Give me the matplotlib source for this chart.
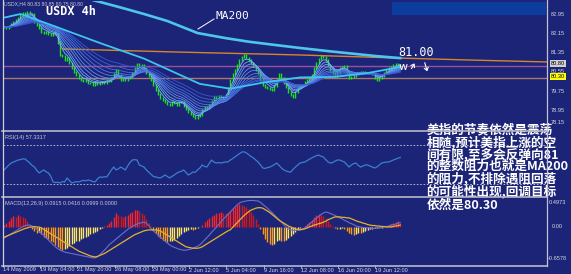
import matplotlib
matplotlib.use('Agg')
import matplotlib.pyplot as plt
import numpy as np
import pandas as pd
from matplotlib.lines import Line2D
from matplotlib.patches import Rectangle, FancyArrowPatch
from matplotlib.colors import LinearSegmentedColormap

W, H = 571, 274
BG = '#1c2478'

# ---------------- data ----------------
closes = [82.41, 82.36, 82.45, 82.55, 82.62,
          82.70, 82.78, 82.92, 82.99,
          82.93, 83.02, 82.97, 82.95,
          82.62,
          82.48, 82.35, 82.20,
          82.16, 82.22, 82.12,
          82.08, 82.15, 82.12,
          81.75, 81.25,
          81.20, 81.05, 81.12,
          80.90, 80.72, 80.54,
          80.40, 80.30, 80.21,
          80.15, 80.22, 80.10, 80.09,
          80.02, 80.12, 80.05, 80.09,
          80.14, 80.08, 80.20, 80.17,
          80.30, 80.45, 80.63,
          80.40, 80.21,
          80.28, 80.22, 80.30, 80.34,
          80.52, 80.70, 80.88,
          80.78, 80.83,
          80.70, 80.52, 80.38,
          80.20, 80.00, 79.80,
          79.62, 79.46,
          79.40, 79.30, 79.22, 79.17,
          79.28, 79.25,
          79.18, 79.32, 79.30,
          79.15, 79.00, 78.88,
          78.80, 78.70, 78.63,
          78.70, 78.76,
          78.95, 79.09,
          79.05, 79.17,
          79.35, 79.51,
          79.45, 79.56, 79.51,
          79.48, 79.59,
          79.90, 80.21,
          80.45, 80.63,
          80.85, 81.04,
          81.18, 81.25,
          81.12, 81.04,
          80.92, 80.79,
          80.62, 80.50,
          80.22, 80.00,
          79.92, 79.88,
          79.84, 79.80,
          79.98, 80.21,
          80.46,
          80.30, 80.09,
          79.90, 79.71,
          79.60, 79.51,
          79.70, 79.88,
          79.95, 80.00,
          80.12, 80.21,
          80.30, 80.42,
          80.70, 80.92,
          81.10, 81.21,
          81.15, 81.04,
          80.85, 80.63,
          80.50, 80.38,
          80.55, 80.71,
          80.75, 80.79,
          80.52, 80.29,
          80.33, 80.38,
          80.45, 80.50,
          80.56, 80.54,
          80.48, 80.50,
          80.52, 80.46,
          80.30, 80.21,
          80.30, 80.38,
          80.50, 80.63,
          80.70, 80.75,
          80.82, 80.88,
          80.85, 80.80]

rsi_values = [44.4, 47.0, 49.5, 51.5,
              52.5, 53.5, 54.6, 55.0,
              55.8, 55.6, 53.5, 51.5,
              49.0, 47.4, 44.0, 41.3,
              43.0, 44.4, 42.5, 41.3,
              38.0, 32.1, 31.5, 31.8,
              31.0, 32.5, 32.1, 36.2,
              33.5, 31.0, 31.8, 32.5,
              32.1, 33.0, 33.8, 33.2,
              34.1, 33.5, 32.5, 32.1,
              35.0, 37.2, 36.8, 37.5,
              37.2, 40.5, 44.4, 47.4,
              44.4, 45.5, 47.4, 46.0,
              44.4, 48.5, 52.0, 54.6,
              55.0, 54.6, 49.5, 48.5,
              47.4, 44.5, 42.3, 40.0,
              37.8, 37.2, 36.6, 36.2,
              37.5, 39.2, 37.8, 36.2,
              37.8, 39.2, 41.0, 42.3,
              43.0, 44.4, 42.0, 39.2,
              40.5, 42.3, 42.0, 44.5,
              46.4, 49.5, 48.0, 47.4,
              51.0, 54.6, 52.5, 51.5,
              52.0, 51.5, 52.0, 52.6,
              52.6, 54.5, 56.0, 57.7,
              59.5, 61.0, 62.8, 63.0,
              61.8, 60.0, 58.0, 56.7,
              54.5, 52.6, 49.5, 46.4,
              46.0, 46.8, 47.4, 48.5,
              50.0, 51.5, 49.0, 46.5,
              44.4, 43.5, 42.5, 42.3,
              45.0, 47.4, 49.5, 51.5,
              52.0, 52.6, 54.0, 55.5,
              56.7, 58.0, 59.0, 59.7,
              58.5, 57.7, 55.0, 52.6,
              51.5, 52.0, 53.5, 54.6,
              54.6, 53.5, 52.6, 50.0,
              47.4, 49.5, 51.0, 51.5,
              49.0, 47.4, 48.5, 49.5,
              49.5, 48.5, 47.5, 46.4,
              47.5, 49.5, 51.5, 52.0,
              52.5, 52.6, 53.5, 54.6,
              55.5, 56.5, 57.3]

macd_hist = [0.05, 0.08, 0.12,
             0.18, 0.22, 0.20, 0.25, 0.23, 0.20, 0.18, 0.12,
             0.02, -0.04,
             -0.08, -0.12, -0.10,
             -0.15, -0.20, -0.22, -0.25, -0.28, -0.32, -0.38, -0.42, -0.45, -0.48,
             -0.46, -0.44, -0.40, -0.36, -0.33,
             -0.30, -0.28, -0.25, -0.22, -0.20, -0.18, -0.15, -0.12, -0.10, -0.08,
             -0.05, -0.02, 0.02, 0.05, 0.08,
             0.12, 0.20, 0.28, 0.25, 0.22, 0.20, 0.22, 0.25, 0.28, 0.32, 0.35, 0.36,
             0.34, 0.30, 0.24, 0.16, 0.08, 0.02,
             -0.06, -0.12, -0.18, -0.22, -0.26, -0.30, -0.32, -0.30, -0.28, -0.26,
             -0.22, -0.18, -0.14, -0.10,
             -0.08, -0.06, -0.05, -0.06, -0.05, -0.03, 0.00,
             0.05, 0.10, 0.15, 0.18, 0.22, 0.25, 0.28, 0.30, 0.32, 0.30, 0.28, 0.30,
             0.34, 0.38, 0.42, 0.45, 0.47, 0.46, 0.44, 0.42, 0.38, 0.32, 0.25, 0.16, 0.06,
             -0.05, -0.15, -0.25, -0.32, -0.36, -0.37, -0.35, -0.30, -0.26, -0.28,
             -0.30, -0.26, -0.22, -0.18, -0.14, -0.10, -0.06,
             -0.03, 0.00, 0.03, 0.06, 0.10, 0.15,
             0.20, 0.24, 0.26, 0.25, 0.22, 0.18, 0.12, 0.06, 0.02,
             -0.03, -0.05, -0.04, -0.03, -0.05,
             -0.08, -0.12, -0.15, -0.16, -0.14, -0.12, -0.13, -0.10, -0.08, -0.06,
             -0.05, -0.04,
             -0.03, -0.02, -0.03, -0.02, 0.00, 0.02, 0.04, 0.06,
             0.08, 0.10, 0.12, 0.09]

macd_signal = [-0.21, -0.19, -0.17, -0.15, -0.13, -0.11, -0.09, -0.07, -0.05, -0.03, -0.02, 0.00,
               0.00, 0.01, 0.00, 0.00,
               -0.02, -0.05, -0.08, -0.11, -0.14, -0.17, -0.20, -0.23, -0.26, -0.29, -0.32, -0.35,
               -0.38, -0.41, -0.44, -0.47, -0.50, -0.52, -0.54, -0.56, -0.58, -0.60, -0.61, -0.62,
               -0.61, -0.59, -0.57, -0.55, -0.52, -0.49, -0.46, -0.43, -0.40, -0.37, -0.34, -0.31,
               -0.28, -0.25, -0.22, -0.19, -0.16, -0.14, -0.12, -0.10, -0.08, -0.07, -0.06, -0.06,
               -0.06, -0.06, -0.07, -0.08,
               -0.11, -0.14, -0.17, -0.20, -0.23, -0.26, -0.29, -0.32, -0.35, -0.38, -0.41,
               -0.42, -0.43, -0.44, -0.44, -0.44, -0.43,
               -0.41, -0.38, -0.35, -0.32, -0.29, -0.26, -0.23, -0.20, -0.17, -0.14, -0.11, -0.08, -0.06,
               -0.01, 0.04, 0.09, 0.14, 0.19, 0.24, 0.28, 0.32, 0.35, 0.37, 0.39,
               0.40, 0.40, 0.39,
               0.36, 0.33, 0.30, 0.26, 0.22, 0.18, 0.14,
               0.11, 0.08, 0.05, 0.02, 0.00, -0.02, -0.04, -0.05, -0.06,
               -0.05, -0.04, -0.02, 0.00, 0.02, 0.04, 0.05, 0.07, 0.08,
               0.10, 0.12, 0.15, 0.17, 0.19, 0.21,
               0.21, 0.21, 0.20, 0.20, 0.19, 0.19,
               0.17, 0.15, 0.13, 0.11, 0.10, 0.08, 0.07, 0.05, 0.04,
               0.03, 0.03, 0.02, 0.02, 0.01, 0.01, 0.00, 0.00, 0.00,
               0.01, 0.02, 0.03, 0.04]

macd_main = [-0.23, -0.20, -0.17, -0.14, -0.11, -0.08, -0.05, -0.02, 0.01, 0.03, 0.04, 0.04,
             0.02, -0.01, -0.05, -0.09, -0.13, -0.17,
             -0.22, -0.27, -0.32, -0.37, -0.41, -0.45, -0.48,
             -0.50, -0.52, -0.53, -0.54, -0.55, -0.56, -0.57, -0.58,
             -0.59, -0.60, -0.61, -0.62, -0.63, -0.64, -0.64,
             -0.62, -0.58, -0.53, -0.48, -0.43, -0.37,
             -0.33, -0.29, -0.25, -0.21, -0.17, -0.13, -0.09, -0.05, -0.02,
             0.01, 0.04, 0.06, 0.08, 0.09, 0.10,
             0.08, 0.03, -0.03, -0.08,
             -0.12, -0.16, -0.21, -0.25, -0.29, -0.33, -0.37,
             -0.40, -0.42, -0.44, -0.46, -0.47, -0.48,
             -0.48, -0.47, -0.46, -0.44, -0.42, -0.40, -0.37,
             -0.32, -0.27, -0.22, -0.17, -0.11, -0.06,
             -0.01, 0.05, 0.10, 0.16, 0.21, 0.26, 0.31, 0.36, 0.41, 0.46, 0.50,
             0.52, 0.53, 0.54, 0.55, 0.55, 0.55, 0.54, 0.54,
             0.51, 0.47, 0.43, 0.39, 0.34, 0.30, 0.25,
             0.20, 0.15, 0.10, 0.05, 0.00, -0.04,
             -0.06, -0.07, -0.07, -0.06, -0.05, -0.04, -0.02,
             0.02, 0.06, 0.10, 0.14, 0.18, 0.22, 0.26, 0.29, 0.31,
             0.30, 0.28, 0.26, 0.24, 0.21, 0.19,
             0.17, 0.14, 0.12, 0.09, 0.07, 0.05, 0.02, 0.01,
             0.00, -0.01, -0.01, -0.02, -0.02, -0.03, -0.03, -0.02, -0.02,
             -0.01, 0.00, 0.01, 0.02, 0.04, 0.05, 0.06, 0.08, 0.09]

ma200_bars = [28, 38, 50, 60, 70, 83, 95, 105, 115, 127, 140, 150, 160, 170]
ma200_vals = [83.80, 83.53, 83.22, 82.95, 82.66, 82.16, 81.95, 81.80, 81.68, 81.54,
              81.40, 81.30, 81.20, 81.12]

slow_bars = [0, 7, 20, 41, 60, 84, 97, 111, 127, 142, 156, 170]
slow_vals = [82.80, 82.95, 82.50, 81.75, 81.10, 80.05, 79.85, 80.10, 80.32, 80.34, 80.50, 80.75]

orange_bars = [25, 75, 127, 170, 200, 233]
orange_vals = [81.50, 81.37, 81.25, 81.12, 81.04, 80.96]

bid_price = 80.80
target_price = 80.30
price_ticks = [82.95, 82.15, 81.35, 80.55, 79.75, 78.95, 78.15]
macd_ticks = [0.4973, 0.0, -0.6578]
macd_tick_labels = ['0.4973', '0.00', '-0.6578']
rsi_levels = [70, 30]
date_bars = [0, 16, 32, 48, 64, 80, 96, 112, 128, 144, 160]
date_labels = ['14 May 2009', '19 May 04:00', '21 May 20:00', '26 May 08:00',
               '29 May 00:00', '2 Jun 12:00', '5 Jun 04:00', '9 Jun 16:00',
               '12 Jun 08:00', '16 Jun 20:00', '19 Jun 12:00']
ribbon_periods = [4, 6, 8, 11, 14, 18, 22, 27, 33, 40]

comment_lines = ['美指的节奏依然是震荡',
                 '相随,预计美指上涨的空',
                 '间有限,至多会反弹向81',
                 '的整数阻力也就是MA200',
                 '的阻力,不排除遇阻回落',
                 '的可能性出现,回调目标',
                 '依然是80.30']

# ---------------- figure ----------------
fig = plt.figure(figsize=(W / 100, H / 100), dpi=100, facecolor=BG)


def fx(x):
    return x / W


def fy(y):
    return 1 - y / H


X0, X1 = 3, 547
PX_PER_BAR = 2.33
xlim = (-0.5, -0.5 + (X1 - X0) / PX_PER_BAR)

ax_p = fig.add_axes([fx(X0), fy(130.5), (X1 - X0) / W, 129.5 / H])
ax_r = fig.add_axes([fx(X0), fy(197), (X1 - X0) / W, 66 / H])
ax_m = fig.add_axes([fx(X0), fy(265), (X1 - X0) / W, 67 / H])

for ax in (ax_p, ax_r, ax_m):
    ax.set_facecolor('none')
    ax.set_xlim(*xlim)
    ax.set_xticks([])
    ax.set_yticks([])
    for s in ax.spines.values():
        s.set_visible(False)

pscale = 24.1
ax_p.set_ylim(82.95 - (130.5 - 14) / pscale, 82.95 + (14 - 1) / pscale)

fig.patches.append(Rectangle((fx(392), fy(15)), (546 - 392) / W, 13 / H,
                             transform=fig.transFigure, facecolor='#0b3c9e',
                             edgecolor='none', zorder=0))

n = len(closes)
xb = np.arange(n)
c = np.array(closes)
o = np.concatenate([[c[0]], c[:-1]])
hi = np.maximum(o, c) + 0.04
lo = np.minimum(o, c) - 0.04
ax_p.vlines(xb, lo, hi, color='#19e619', lw=1.0, zorder=2)

ax_p.axhline(bid_price, color='#9a4f9a', lw=1.0, zorder=1)
ax_p.axhline(target_price, color='#a87a6a', lw=1.0, zorder=1)
ax_p.plot(orange_bars, orange_vals, color='#d8842a', lw=1.0, zorder=2)

cs = pd.Series(closes)
cmap = LinearSegmentedColormap.from_list('rib', ['#7cb8ff', '#3558d8'])
for i, p in enumerate(ribbon_periods):
    ema = cs.ewm(span=p, adjust=False).mean()
    ax_p.plot(xb, ema, color=cmap(i / (len(ribbon_periods) - 1)), lw=0.6, zorder=3)
ax_p.plot(slow_bars, slow_vals, color='#3ec4f0', lw=1.3, zorder=4)
ax_p.plot(ma200_bars, ma200_vals, color='#4ec6ec', lw=1.9, zorder=4)

# RSI
ax_r.set_ylim(30 - 13 / 0.975, 70 + 14 / 0.975)
for lv in rsi_levels:
    ax_r.axhline(lv, color='#c8c8d8', lw=0.6, ls=(0, (2, 2)))
ax_r.plot(np.arange(len(rsi_values)), rsi_values, color='#3a7fd0', lw=0.9)

# MACD
mstep = 0.4973 / 24
ax_m.set_ylim(-38 * mstep, 29 * mstep)
hist = np.array(macd_hist)
prev = np.concatenate([[hist[0]], hist[:-1]])
cols = []
for v, pv in zip(hist, prev):
    if v >= 0:
        cols.append('#ff2424' if v >= pv else '#d01818')
    else:
        cols.append('#ff9a10' if v < pv else '#ffe860')
ax_m.vlines(np.arange(len(hist)), 0, hist, colors=cols, lw=1.0)
ax_m.plot(np.arange(len(macd_main)), macd_main, color='#6e6ec8', lw=0.8)
ax_m.plot(np.arange(len(macd_signal)), macd_signal, color='#e8b030', lw=0.9)

# right axis labels
lab_col = '#d8d8e0'
small = dict(family='Liberation Sans', fontsize=4.1, color=lab_col)
for t in price_ticks:
    y = min(14 + (82.95 - t) * pscale, 122.5)
    fig.text(fx(557.5), fy(y), f'{t:.2f}', ha='center', va='center', **small)
for t, lab in zip(macd_ticks, macd_tick_labels):
    y = 227 - t / mstep
    fig.text(fx(557.5), fy(y), lab, ha='center', va='center', **small)

for val, bg, yy in ((bid_price, '#d0d0d0', 63.5), (target_price, '#ffff00', 76.5)):
    fig.text(fx(558), fy(yy), f'{val:.2f}', color='black', fontsize=4.1,
             family='Liberation Sans', ha='center', va='center',
             bbox=dict(boxstyle='square,pad=0.2', facecolor=bg, edgecolor='none'))

# date labels
for b, lab in zip(date_bars, date_labels):
    xpix = X0 + (b - xlim[0]) * PX_PER_BAR - 1.5
    if b == 0:
        xpix = 3
    fig.text(fx(xpix), fy(270), lab, ha='left', va='center', **small)
    if b != 0:
        fig.add_artist(Line2D([fx(xpix), fx(xpix)], [fy(265), fy(267.5)],
                              color=lab_col, lw=0.5))

# panel labels
fig.text(fx(4), fy(4), 'USDX,H4 80.83 80.85 80.75 80.80', color='#c8c8d0',
         fontsize=3.7, family='Liberation Sans', ha='left', va='center')
fig.text(fx(5), fy(137), 'RSI(14) 57.3317', color='#c8c8d0', fontsize=4.0,
         family='Liberation Sans', ha='left', va='center')
fig.text(fx(5), fy(204), 'MACD(12,26,9) 0.0915 0.0416 0.0999 0.0000', color='#c8c8d0',
         fontsize=4.0, family='Liberation Sans', ha='left', va='center')

# annotations
fig.text(fx(46), fy(11.5), 'USDX 4h', color='white', fontsize=8.5,
         family='DejaVu Sans Mono', weight='bold', ha='left', va='center')
fig.text(fx(215), fy(16), 'MA200', color='white', fontsize=8,
         family='DejaVu Sans Mono', ha='left', va='center')
fig.add_artist(Line2D([fx(214), fx(198)], [fy(19), fy(29)], color='white', lw=0.7))
fig.text(fx(398), fy(52), '81.00', color='white', fontsize=8.5,
         family='DejaVu Sans Mono', ha='left', va='center')
fig.text(fx(399), fy(67), 'w', color='white', fontsize=8, ha='left', va='center')
fig.patches.append(FancyArrowPatch(
    (fx(410), fy(71)), (fx(416), fy(61)), transform=fig.transFigure,
    arrowstyle='->,head_length=2,head_width=1.5', color='white', lw=0.8))
fig.patches.append(FancyArrowPatch(
    (fx(424), fy(60)), (fx(428), fy(74)), transform=fig.transFigure,
    arrowstyle='->,head_length=2,head_width=1.5', color='white', lw=0.8))

# Chinese comment: six-line block + last line (baseline = last line of a block)
cjk = dict(color='white', fontsize=9.1, family=['Noto Sans CJK SC', 'DejaVu Sans'],
           weight='bold', ha='left', va='baseline', zorder=5)
fig.text(fx(426.5), fy(195.0), '\n'.join(comment_lines[:6]), linespacing=0.88, **cjk)
fig.text(fx(426.5), fy(209.0), comment_lines[6], **cjk)

# frame / separators (drawn on top)
sep_col = '#b8b8c8'
for y in (131, 197, 265.5):
    fig.add_artist(Line2D([fx(2), fx(X1)], [fy(y), fy(y)], color=sep_col, lw=1.2, zorder=10))
fig.add_artist(Line2D([fx(2.5), fx(2.5)], [fy(0), fy(266)], color='#d0d0d8', lw=0.9, zorder=10))
fig.add_artist(Line2D([fx(X1), fx(X1)], [fy(0), fy(266)], color='#c0c0d0', lw=0.9, zorder=10))

fig.savefig('out.png', dpi=100, facecolor=BG)
